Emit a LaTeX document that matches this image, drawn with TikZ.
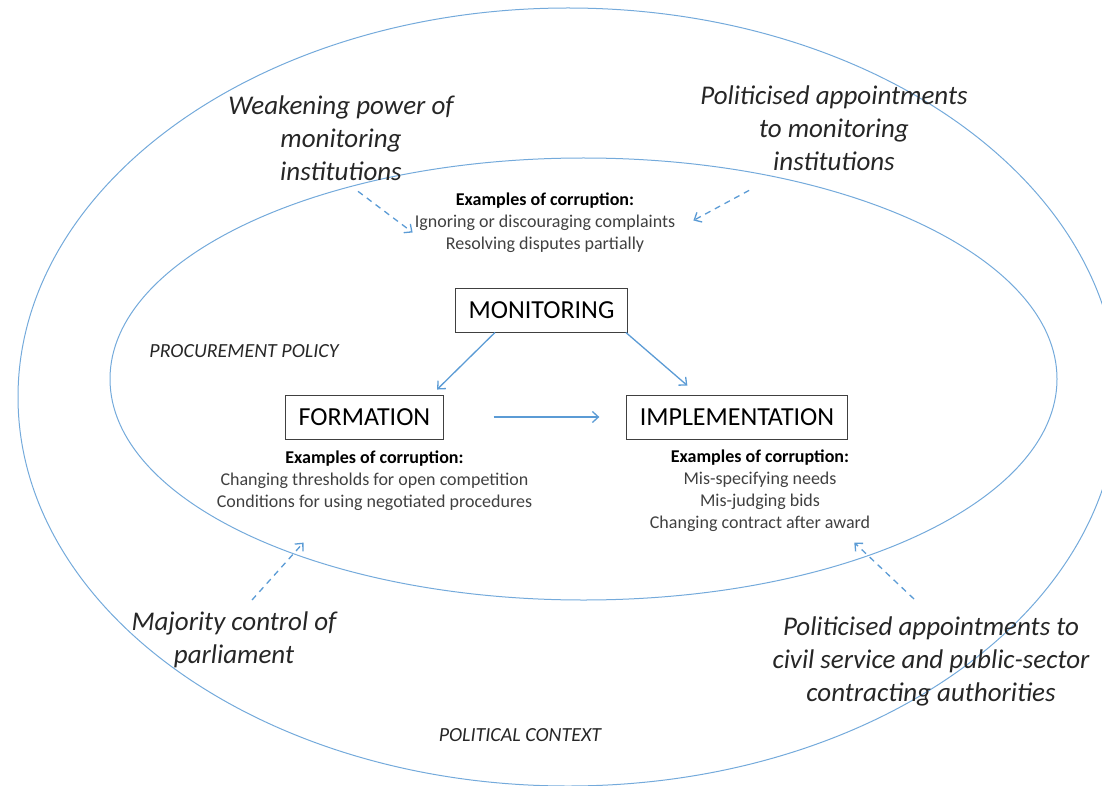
\documentclass[tikz,border=0pt]{standalone}
\usepackage{fontspec}
\setmainfont{Carlito}
\usetikzlibrary{positioning,arrows.meta}
\definecolor{lineblue}{RGB}{91,155,213}
\definecolor{txtgray}{RGB}{64,64,64}

\begin{document}
\begin{tikzpicture}[x=1pt,y=-1pt,
box/.style={draw=black!75,line width=0.9pt,inner xsep=13pt,minimum height=44pt,font=\fontsize{26}{31}\selectfont},
ex/.style={align=center,inner sep=0pt,anchor=north,text=txtgray,font=\fontsize{18}{22}\selectfont},
side/.style={align=center,inner sep=0pt,anchor=north,text=black!85,font=\fontsize{27}{33}\selectfont\itshape},
area/.style={inner sep=0pt,anchor=base,text=black!85,font=\fontsize{20}{24}\selectfont\itshape},
ring/.style={draw=lineblue!85,line width=1pt},
line/.style={-{Straight Barb[length=6pt,width=11pt]},draw=lineblue,line width=1.3pt},
hint/.style={line,dash pattern=on 6pt off 5pt}]
\useasboundingbox (0,0) rectangle (1102,786);
\draw[ring] (568,397) ellipse [x radius=550pt,y radius=389pt];
\draw[ring] (583.5,379) ellipse [x radius=473.5pt,y radius=221pt];

% stages
\node[box] (mon) at (541.5,310) {MONITORING};
\node[box] (form) at (364.5,417) {FORMATION};
\node[box] (impl) at (737,417) {IMPLEMENTATION};

% examples of corruption
\node[ex,above=35pt of mon,xshift=3.5pt] (mex) {{\color{black}\bfseries Examples of corruption:}\\Ignoring or discouraging complaints\\Resolving disputes partially};
\node[ex,below=11pt of form,xshift=10pt] (fex) {{\color{black}\bfseries Examples of corruption:}\\Changing thresholds for open competition\\Conditions for using negotiated procedures};
\node[ex,below=10pt of impl,xshift=23pt] (iex) {{\color{black}\bfseries Examples of corruption:}\\Mis-specifying needs\\Mis-judging bids\\Changing contract after award};

% political pressures
\node[side] (weak) at (341,96) {Weakening power of\\monitoring\\institutions};
\node[side] (papp) at (834,86) {Politicised appointments\\to monitoring\\institutions};
\node[side] (maj) at (234,612) {Majority control of\\parliament};
\node[side] (civ) at (931,617) {Politicised appointments to\\civil service and public-sector\\contracting authorities};
\node[area] (proc) at (244,357) {PROCUREMENT POLICY};
\node[area] (polc) at (520,741) {POLITICAL CONTEXT};

\draw[line] ([xshift=-46.5pt]mon.south) -- ([xshift=72.5pt,yshift=5pt]form.north);
\draw[line] ([xshift=-2pt]mon.south east) -- ([xshift=61pt,yshift=9pt]impl.north west);
\draw[line,shorten <=50pt,shorten >=27pt] (form.east) -- (impl.west);
\draw[hint] ([xshift=17pt,yshift=-10pt]weak.south) -- ([xshift=-2pt,yshift=-10pt]mex.west);
\draw[hint] ([xshift=49pt,yshift=-19pt]papp.south west) -- ([xshift=18pt,yshift=2pt]mex.east);
\draw[hint] ([xshift=18pt,yshift=12pt]maj.north) -- ([xshift=-71pt,yshift=-32pt]fex.south);
\draw[hint] ([xshift=-17pt,yshift=18pt]civ.north) -- ([xshift=-16pt,yshift=-11pt]iex.south east);
\end{tikzpicture}
\end{document}
